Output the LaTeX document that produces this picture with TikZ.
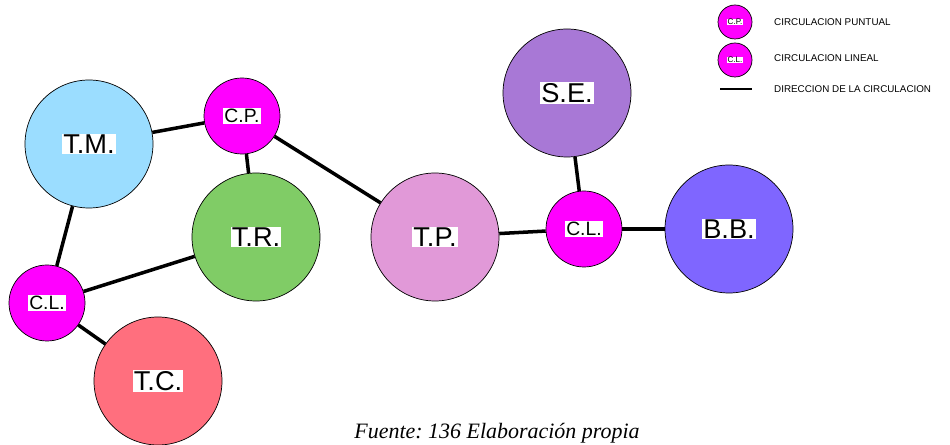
\documentclass[tikz,border=0pt]{standalone}
\usepackage{fontspec}
\setmainfont{Liberation Sans}
\newfontfamily\capfont{Liberation Serif}
\frenchspacing
\usetikzlibrary{positioning}
\tikzset{
  zone/.style={draw, thin, circle, inner sep=0pt, minimum size=128\unitpx, fill=#1},
  circ/.style={draw, thin, circle, inner sep=0pt, minimum size=76\unitpx, fill=cmag},
  mini/.style={draw, thin, circle, inner sep=0pt, minimum size=34\unitpx, fill=cmag},
  lbl/.style={fill=white, inner sep=0.6pt, text=black},
  lnk/.style={line width=2pt},
  leg/.style={anchor=west, font=\fontsize{5.6}{6}\selectfont},
}
\newcommand{\unitpx}{*0.02cm}
\definecolor{cmag}{HTML}{FF00FF}
\definecolor{tmblue}{HTML}{9BDDFF}
\definecolor{trgreen}{HTML}{80CC66}
\definecolor{tcred}{HTML}{FF6F7E}
\definecolor{tppink}{HTML}{E199D8}
\definecolor{sepurp}{HTML}{A878D6}
\definecolor{bbviol}{HTML}{7F66FF}
\begin{document}
\begin{tikzpicture}[x=0.02cm, y=-0.02cm]
    \useasboundingbox (0,0) rectangle (950,445);
    % zonas
    \node[zone=tmblue, label={[lbl, font=\fontsize{15.5}{16}\selectfont]center:T.M.}] (tm) at (89,144) {};
    \node[circ, label={[lbl, font=\fontsize{11}{12}\selectfont]center:C.P.}] (cp) at (242,116) {};
    \node[zone=trgreen, label={[lbl, font=\fontsize{15.5}{16}\selectfont]center:T.R.}] (tr) at (256,237) {};
    \node[circ, label={[lbl, font=\fontsize{11}{12}\selectfont]center:C.L.}] (cla) at (47,303) {};
    \node[zone=tcred, label={[lbl, font=\fontsize{15.5}{16}\selectfont]center:T.C.}] (tc) at (158,381) {};
    \node[zone=tppink, label={[lbl, font=\fontsize{15.5}{16}\selectfont]center:T.P.}] (tp) at (435,237) {};
    \node[circ, label={[lbl, font=\fontsize{11}{12}\selectfont]center:C.L.}] (clb) at (584,229) {};
    \node[zone=sepurp, label={[lbl, font=\fontsize{15.5}{16}\selectfont]center:S.E.}] (se) at (567,93) {};
    \node[zone=bbviol, label={[lbl, font=\fontsize{15.5}{16}\selectfont]center:B.B.}] (bb) at (729,229) {};
    % circulacion
    \draw[lnk] (tm) -- (cp);
    \draw[lnk] (cp) -- (tr);
    \draw[lnk] (cp) -- (tp);
    \draw[lnk] (tm) -- (cla);
    \draw[lnk] (cla) -- (tr);
    \draw[lnk] (cla) -- (tc);
    \draw[lnk] (tp) -- (clb);
    \draw[lnk] (clb) -- (se);
    \draw[lnk] (clb) -- (bb);
    % leyenda
    \node[mini, label={[lbl, inner sep=0.3pt, font=\fontsize{4.6}{5}\selectfont]center:C.P.}] (lcp) at (735,22) {};
    \node[mini, label={[lbl, inner sep=0.3pt, font=\fontsize{4.6}{5}\selectfont]center:C.L.}] (lcl) at (735,60) {};
    \coordinate (la) at (720,89);
    \coordinate (lb) at (752,89);
    \draw[lnk, line width=1.2pt] (la) -- (lb);
    \node[leg] (tcp) at (768,22) {CIRCULACION PUNTUAL};
    \node[leg] (tcl) at (768,58) {CIRCULACION LINEAL};
    \node[leg] (tdc) at (768,89) {DIRECCION DE LA CIRCULACION};
    % fuente
    \node[font=\capfont\itshape\fontsize{12.5}{14}\selectfont] (fte) at (497,433) {Fuente: 136 Elaboración propia};
\end{tikzpicture}
\end{document}
